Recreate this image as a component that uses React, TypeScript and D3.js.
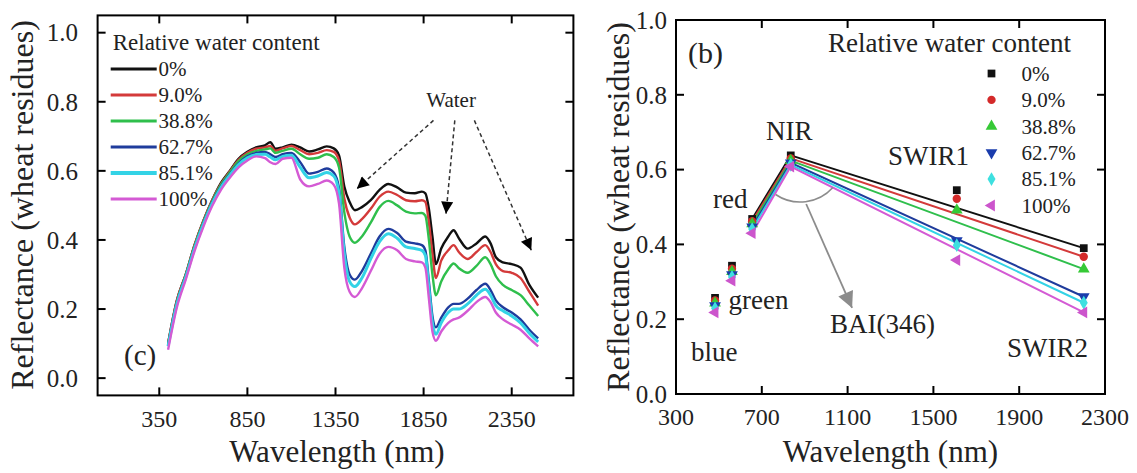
import React from 'react'
import * as d3 from 'd3'

// ---- panel (c): reflectance spectra ----
const wavelengths = [400, 450, 500, 550, 600, 650, 700, 750, 800, 850, 900, 950, 980, 1010, 1050, 1100, 1150, 1200, 1250, 1300, 1340, 1370, 1400, 1430, 1460, 1500, 1550, 1600, 1650, 1700, 1750, 1800, 1840, 1860, 1880, 1900, 1920, 1950, 1990, 2020, 2050, 2100, 2150, 2200, 2230, 2260, 2300, 2350, 2400, 2450, 2500]

const spec0 = [0.10, 0.225, 0.30, 0.385, 0.455, 0.515, 0.565, 0.60, 0.635, 0.655, 0.668, 0.674, 0.683, 0.664, 0.668, 0.676, 0.668, 0.656, 0.662, 0.671, 0.665, 0.645, 0.555, 0.51, 0.486, 0.495, 0.515, 0.545, 0.562, 0.552, 0.537, 0.535, 0.54, 0.535, 0.49, 0.41, 0.33, 0.375, 0.41, 0.428, 0.405, 0.375, 0.39, 0.41, 0.39, 0.35, 0.335, 0.33, 0.32, 0.27, 0.233]
const spec9 = [0.10, 0.225, 0.30, 0.385, 0.455, 0.515, 0.562, 0.598, 0.632, 0.652, 0.664, 0.668, 0.672, 0.658, 0.665, 0.672, 0.66, 0.648, 0.652, 0.66, 0.655, 0.63, 0.52, 0.465, 0.445, 0.46, 0.49, 0.525, 0.54, 0.53, 0.515, 0.512, 0.515, 0.51, 0.45, 0.36, 0.29, 0.34, 0.37, 0.385, 0.365, 0.345, 0.365, 0.385, 0.365, 0.33, 0.31, 0.305, 0.29, 0.25, 0.21]
const spec38 = [0.095, 0.22, 0.298, 0.382, 0.452, 0.512, 0.56, 0.595, 0.628, 0.648, 0.658, 0.662, 0.665, 0.652, 0.658, 0.664, 0.648, 0.635, 0.638, 0.648, 0.64, 0.61, 0.48, 0.41, 0.392, 0.41, 0.45, 0.495, 0.513, 0.50, 0.482, 0.477, 0.478, 0.47, 0.40, 0.30, 0.24, 0.28, 0.315, 0.332, 0.318, 0.305, 0.325, 0.35, 0.33, 0.295, 0.27, 0.255, 0.24, 0.21, 0.18]
const spec62 = [0.095, 0.218, 0.295, 0.378, 0.448, 0.508, 0.555, 0.59, 0.622, 0.642, 0.652, 0.655, 0.648, 0.64, 0.648, 0.652, 0.625, 0.592, 0.597, 0.607, 0.595, 0.55, 0.38, 0.30, 0.285, 0.31, 0.36, 0.41, 0.432, 0.42, 0.395, 0.39, 0.385, 0.37, 0.28, 0.18, 0.147, 0.175, 0.205, 0.215, 0.215, 0.23, 0.255, 0.273, 0.255, 0.225, 0.205, 0.19, 0.17, 0.14, 0.115]
const spec85 = [0.092, 0.215, 0.292, 0.375, 0.445, 0.505, 0.552, 0.587, 0.618, 0.638, 0.647, 0.648, 0.64, 0.632, 0.642, 0.645, 0.61, 0.58, 0.585, 0.595, 0.585, 0.535, 0.36, 0.28, 0.265, 0.29, 0.345, 0.395, 0.418, 0.405, 0.38, 0.375, 0.37, 0.355, 0.26, 0.16, 0.127, 0.16, 0.19, 0.20, 0.20, 0.215, 0.24, 0.257, 0.24, 0.21, 0.195, 0.18, 0.16, 0.13, 0.105]
const spec100 = [0.082, 0.205, 0.285, 0.368, 0.438, 0.498, 0.545, 0.58, 0.61, 0.63, 0.642, 0.637, 0.625, 0.62, 0.635, 0.638, 0.575, 0.555, 0.562, 0.572, 0.56, 0.505, 0.32, 0.25, 0.235, 0.26, 0.31, 0.36, 0.38, 0.37, 0.345, 0.338, 0.335, 0.32, 0.23, 0.135, 0.108, 0.135, 0.16, 0.17, 0.175, 0.195, 0.22, 0.235, 0.22, 0.19, 0.17, 0.155, 0.14, 0.115, 0.092]

const waterLabels = ['0%', '9.0%', '38.8%', '62.7%', '85.1%', '100%']
const lineColors = ['#111111', '#d43a3a', '#2fbf4c', '#1f3c9c', '#33d3e6', '#d45ad4']
const markerColors = ['#111111', '#d42a2a', '#36c936', '#1a3cac', '#3ee0e0', '#cc55cc']

const leftXTicks = [350, 850, 1350, 1850, 2350]
const yTicks = [0, 0.2, 0.4, 0.6, 0.8, 1.0]

// ---- panel (b): band reflectance ----
const bandNames = ['blue', 'green', 'red', 'NIR', 'SWIR1', 'SWIR2']
const bandWl = [482, 561, 655, 835, 1609, 2201]
const band0 = [0.257, 0.343, 0.468, 0.638, 0.545, 0.390]
const band9 = [0.250, 0.335, 0.462, 0.630, 0.522, 0.367]
const band38 = [0.243, 0.327, 0.455, 0.624, 0.492, 0.334]
const band62 = [0.236, 0.319, 0.447, 0.618, 0.410, 0.260]
const band85 = [0.229, 0.313, 0.441, 0.613, 0.398, 0.244]
const band100 = [0.218, 0.303, 0.430, 0.608, 0.358, 0.218]
const rightXTicks = [300, 700, 1100, 1500, 1900, 2300]

const spectra = [spec0, spec9, spec38, spec62, spec85, spec100]
const bands = [band0, band9, band38, band62, band85, band100]

const FONT = 'Liberation Serif, DejaVu Serif, Tinos, Times New Roman, Noto Serif, serif'

const symbols = [
  { type: d3.symbolSquare, size: 60, rot: 0 },
  { type: d3.symbolCircle, size: 55, rot: 0 },
  { type: d3.symbolTriangle, size: 60, rot: 0 },
  { type: d3.symbolTriangle, size: 60, rot: 180 },
  { type: d3.symbolDiamond, size: 55, rot: 0 },
  { type: d3.symbolTriangle, size: 60, rot: -90 }
]

function Frame ({ x, y, xTicks, yTicksV, xLabelY, yLabelX, fs }) {
  const [x0, x1] = x.range()
  const [y0, y1] = y.range()
  const t = 8
  return (
    <g>
      <rect x={x0} y={y1} width={x1 - x0} height={y0 - y1} fill='none' stroke='#000' strokeWidth={2} />
      {xTicks.map(v => (
        <g key={'x' + v}>
          <line x1={x(v)} x2={x(v)} y1={y0} y2={y0 - t} stroke='#000' strokeWidth={2} />
          <line x1={x(v)} x2={x(v)} y1={y1} y2={y1 + t} stroke='#000' strokeWidth={2} />
          <text x={x(v)} y={xLabelY} textAnchor='middle' fontSize={fs} style={{ fontFamily: FONT }} fill='#222'>{v}</text>
        </g>
      ))}
      {yTicksV.map(v => (
        <g key={'y' + v}>
          <line x1={x0} x2={x0 + t} y1={y(v)} y2={y(v)} stroke='#000' strokeWidth={2} />
          <line x1={x1} x2={x1 - t} y1={y(v)} y2={y(v)} stroke='#000' strokeWidth={2} />
          <text x={yLabelX} y={y(v)} dy='0.35em' textAnchor='end' fontSize={fs + 1} style={{ fontFamily: FONT }} fill='#222'>{v.toFixed(1)}</text>
        </g>
      ))}
    </g>
  )
}

export default function App () {
  // left panel scales
  const xL = d3.scaleLinear().domain([0, 2700]).range([97.6, 573.4])
  const yL = d3.scaleLinear().domain([-0.05, 1.05]).range([395.4, 15.4])
  // right panel scales
  const xR = d3.scaleLinear().domain([300, 2300]).range([676, 1105])
  const yR = d3.scaleLinear().domain([0, 1]).range([394, 20])

  const specLine = d3.line<number>()
    .x((d, i) => xL(wavelengths[i]))
    .y(d => yL(d))
    .curve(d3.curveMonotoneX)

  // lines through red, NIR and SWIR2 bands
  const fitIdx = [2, 3, 5]

  // BAI angle arc below the NIR vertex
  const arcCx = xR(879)
  const arcCy = yR(0.631)
  const arcR = 44
  const a1 = (42 * Math.PI) / 180
  const a2 = (124 * Math.PI) / 180
  const arcPath = `M${arcCx + arcR * Math.cos(a1)},${arcCy + arcR * Math.sin(a1)} A${arcR},${arcR} 0 0 1 ${arcCx + arcR * Math.cos(a2)},${arcCy + arcR * Math.sin(a2)}`

  const waterArrows = [
    [[1906, 0.746], [1471, 0.548]],
    [[2027, 0.746], [1977, 0.476]],
    [[2138, 0.746], [2461, 0.37]]
  ]

  const txt = { fontFamily: FONT }

  return (
    <div style={{ position: 'fixed', left: 0, top: 0 }}>
      <svg width={1137} height={473} style={{ display: 'block', background: '#fff' }}>
        <defs>
          <marker id='headBlack' viewBox='0 0 10 10' refX='10' refY='5' markerUnits='userSpaceOnUse' markerWidth='15' markerHeight='12' orient='auto'>
            <path d='M0,0 L10,5 L0,10 z' fill='#000' />
          </marker>
          <marker id='headGray' viewBox='0 0 10 10' refX='10' refY='5' markerUnits='userSpaceOnUse' markerWidth='22' markerHeight='16' orient='auto'>
            <path d='M0,0 L10,5 L0,10 z' fill='#8c8c8c' />
          </marker>
        </defs>

        {/* ---------- left panel (c) ---------- */}
        <Frame x={xL} y={yL} xTicks={leftXTicks} yTicksV={yTicks} xLabelY={427} yLabelX={78} fs={24} />
        {spectra.map((s, k) => (
          <path key={k} d={specLine(s)} fill='none' stroke={lineColors[k]} strokeWidth={k === 4 ? 3 : 2.4} />
        ))}
        <text x={112.7} y={50} fontSize={23} style={txt} fill='#222'>Relative water content</text>
        {waterLabels.map((lab, k) => (
          <g key={lab}>
            <line x1={110.7} x2={156.7} y1={69 + k * 26} y2={69 + k * 26} stroke={lineColors[k]} strokeWidth={k === 4 ? 4 : 3} />
            <text x={158.5} y={69 + k * 26} dy='0.35em' fontSize={21} style={txt} fill='#222'>{lab}</text>
          </g>
        ))}
        <text x={xL(2006)} y={yL(0.784)} textAnchor='middle' fontSize={21} style={txt} fill='#222'>Water</text>
        {waterArrows.map((a, k) => (
          <line key={k} x1={xL(a[0][0])} y1={yL(a[0][1])} x2={xL(a[1][0])} y2={yL(a[1][1])}
            stroke='#333' strokeWidth={1.5} strokeDasharray='4,3' markerEnd='url(#headBlack)' />
        ))}
        <text x={124} y={365} fontSize={29} style={txt} fill='#222'>(c)</text>
        <text x={337} y={462} textAnchor='middle' fontSize={31} style={txt} fill='#222'>Wavelength (nm)</text>
        <text transform='translate(33,205) rotate(-90)' textAnchor='middle' fontSize={32} style={txt} fill='#222'>Reflectance (wheat residues)</text>

        {/* ---------- right panel (b) ---------- */}
        <Frame x={xR} y={yR} xTicks={rightXTicks} yTicksV={yTicks} xLabelY={425} yLabelX={667} fs={24} />
        {bands.map((b, k) => (
          <path key={'l' + k}
            d={d3.line<number>().x(i => xR(bandWl[i])).y(i => yR(b[i]))(fitIdx)}
            fill='none' stroke={lineColors[k]} strokeWidth={2} />
        ))}
        <path d={arcPath} fill='none' stroke='#8c8c8c' strokeWidth={1.6} />
        <line x1={xR(907)} y1={yR(0.508)} x2={xR(1121)} y2={yR(0.23)} stroke='#8c8c8c' strokeWidth={1.8} markerEnd='url(#headGray)' />
        {bands.map((b, k) => (
          <g key={'m' + k}>
            {b.map((v, i) => (
              <path key={i}
                d={d3.symbol().type(symbols[k].type).size(symbols[k].size)()}
                transform={`translate(${xR(bandWl[i])},${yR(v)}) rotate(${symbols[k].rot})`}
                fill={markerColors[k]} />
            ))}
          </g>
        ))}
        <text x={828} y={52} fontSize={27} style={txt} fill='#222'>Relative water content</text>
        {waterLabels.map((lab, k) => (
          <g key={'r' + lab}>
            <path d={d3.symbol().type(symbols[k].type).size(symbols[k].size)()}
              transform={`translate(991.5,${73.5 + k * 26.4}) rotate(${symbols[k].rot})`}
              fill={markerColors[k]} />
            <text x={1021.5} y={73.5 + k * 26.4} dy='0.35em' fontSize={21} style={txt} fill='#222'>{lab}</text>
          </g>
        ))}
        <text x={688} y={63} fontSize={30} style={txt} fill='#222'>(b)</text>
        <text x={766} y={140} fontSize={27} style={txt} fill='#222'>{bandNames[3]}</text>
        <text x={713} y={208} fontSize={27} style={txt} fill='#222'>{bandNames[2]}</text>
        <text x={728.5} y={309} fontSize={27} style={txt} fill='#222'>{bandNames[1]}</text>
        <text x={691} y={361} fontSize={27} style={txt} fill='#222'>{bandNames[0]}</text>
        <text x={888} y={165} fontSize={27} style={txt} fill='#222'>{bandNames[4]}</text>
        <text x={1007} y={357} fontSize={27} style={txt} fill='#222'>{bandNames[5]}</text>
        <text x={830} y={333} fontSize={27} style={txt} fill='#222'>BAI(346)</text>
        <text x={890.5} y={462} textAnchor='middle' fontSize={31} style={txt} fill='#222'>Wavelength (nm)</text>
        <text transform='translate(629,207) rotate(-90)' textAnchor='middle' fontSize={32} style={txt} fill='#222'>Reflectance (wheat residues)</text>
      </svg>
    </div>
  )
}
